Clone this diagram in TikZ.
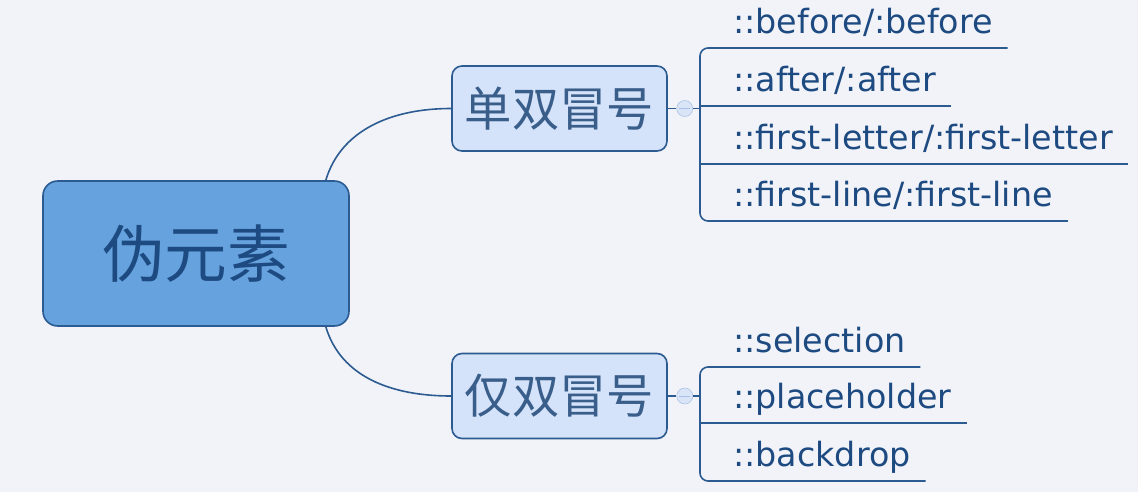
\documentclass[tikz,border=0pt]{standalone}
\usepackage{fontspec}
\newfontfamily\cjk{Noto Sans CJK SC}
\newfontfamily\leaffont{DejaVu Sans}
\usetikzlibrary{positioning}
\definecolor{bgcol}{HTML}{F2F3F9}
\definecolor{linecol}{HTML}{2B5B90}
\definecolor{rootfill}{HTML}{66A2DE}
\definecolor{subfill}{HTML}{D4E2FA}
\definecolor{textcol}{HTML}{1D4A80}
\definecolor{subtext}{HTML}{3A5E8A}
\definecolor{btnfill}{HTML}{D9E5F6}
\definecolor{btnline}{HTML}{A7C0E4}

\begin{document}
\begin{tikzpicture}[x=0.75pt,y=-0.75pt,
  root/.style={draw=linecol, fill=rootfill, line width=1.2pt, rounded corners=11pt,
    minimum width=229.5pt, minimum height=108.75pt, text=textcol,
    font=\cjk\fontsize{47}{52}\selectfont},
  topic/.style={draw=linecol, fill=subfill, line width=1.2pt, rounded corners=7.5pt,
    minimum width=161.25pt, minimum height=63.75pt, text=subtext,
    font=\cjk\fontsize{35.5}{40}\selectfont},
  btn/.style={circle, draw=btnline, fill=btnfill, minimum size=12pt, inner sep=0pt},
  leaf/.style={anchor=south west, inner xsep=0pt, inner ysep=10.5pt, text depth=0pt,
    text=textcol, font=\leaffont\fontsize{25}{28}\selectfont,
    execute at begin node={\hspace*{24.75pt}}, execute at end node={\hspace*{11pt}}},
  branch/.style={draw=linecol, line width=1.2pt}]

  \fill[bgcol] (0,0) rectangle (1138,492);
  \useasboundingbox (0,0) rectangle (1138,492);

  \node[root] (root) at (196,253.5) {伪元素};
  \node[topic] (single) at (559.5,108.5) {单双冒号};
  \node[topic] (double) at (559.5,396) {仅双冒号};
  \node[btn] (b1) [right=6.5pt of single] {};
  \node[btn] (b2) [right=6.5pt of double] {};

  % single or double colon
  \node[leaf] (l1) at (700,48) {::before/:before};
  \node[leaf] (l2) at (700,106) {::after/:after};
  \node[leaf] (l3) at (700,164) {::first-letter/:first-letter};
  \node[leaf] (l4) at (700,221) {::first-line/:first-line};

  % double colon only
  \node[leaf] (m1) at (700,367) {::selection};
  \node[leaf] (m2) at (700,423) {::placeholder};
  \node[leaf] (m3) at (700,481) {::backdrop};

  \draw[branch] ([xshift=-18pt]root.north east) .. controls +(15,-50) and +(-60,0) .. (single.west);
  \draw[branch] ([xshift=-18pt]root.south east) .. controls +(15,50) and +(-60,0) .. (double.west);

  \draw[branch] (single) -- (b1);
  \draw[branch] (double) -- (b2);
  \draw[branch] (b1) -- (b1 -| l1.south west);
  \draw[branch] (b2) -- (b2 -| m1.south west);
  \foreach \b in {b1,b2}
    \draw[btnline] ([xshift=-4pt]\b.center) -- ([xshift=4pt]\b.center);

  \draw[branch, rounded corners=6pt] (l1.south east) -- (l1.south west) -- (l4.south west) -- (l4.south east);
  \draw[branch] (l2.south west) -- (l2.south east);
  \draw[branch] (l3.south west) -- (l3.south east);
  \draw[branch, rounded corners=6pt] (m1.south east) -- (m1.south west) -- (m3.south west) -- (m3.south east);
  \draw[branch] (m2.south west) -- (m2.south east);
\end{tikzpicture}
\end{document}
